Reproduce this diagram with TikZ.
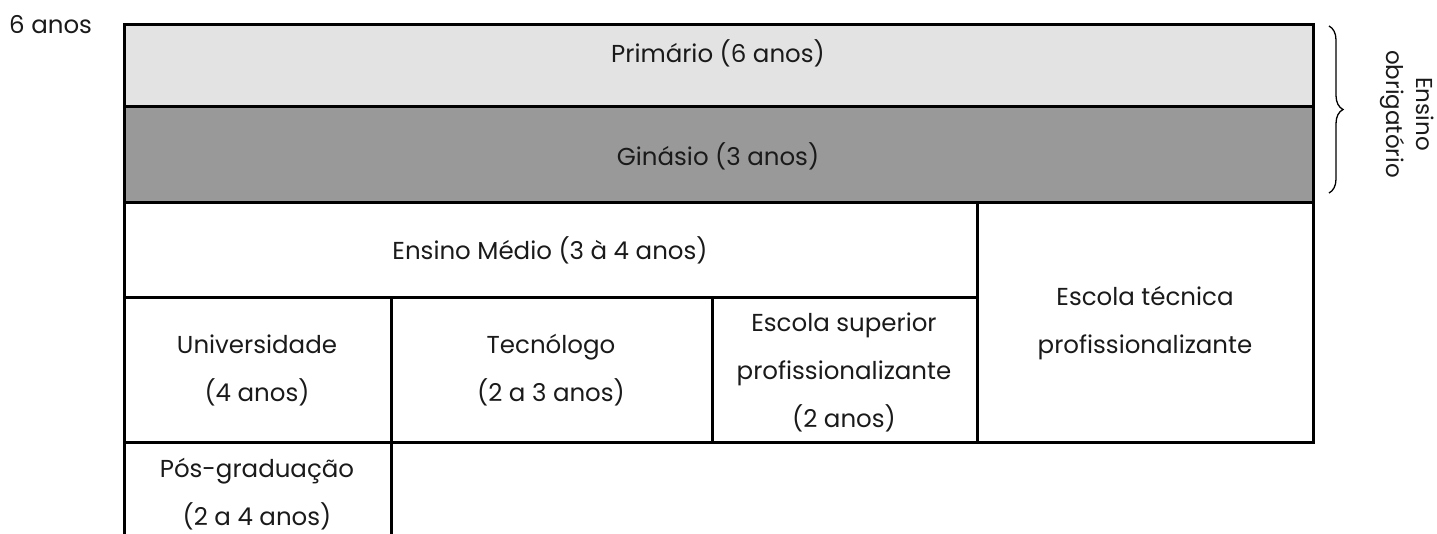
\documentclass[tikz,border=0pt]{standalone}
\usepackage{fontspec}
\setmainfont{Poppins}
\usetikzlibrary{decorations.pathreplacing}
\definecolor{lightfill}{HTML}{E3E3E3}
\definecolor{darkfill}{HTML}{999999}
\definecolor{ink}{HTML}{1A1A1A}
\tikzset{
  cell/.style={draw=black, line width=3pt},
  lbl/.style={inner sep=0pt, align=center, text=ink, font=\fontsize{24.5}{48}\selectfont},
}
\begin{document}
\begin{tikzpicture}[x=1pt,y=-1pt]
\useasboundingbox (0,0) rectangle (1437,533);
% fills
\fill[lightfill] (124,24) rectangle (1313,106);
\fill[darkfill] (124,106) rectangle (1313,202);
% grid
\draw[cell] (124,24) rectangle (1313,106);
\draw[cell] (124,106) rectangle (1313,202);
\draw[cell] (124,202) rectangle (977,297);
\draw[cell] (977,202) rectangle (1313,442);
\draw[cell] (124,297) rectangle (391,442);
\draw[cell] (391,297) rectangle (712,442);
\draw[cell] (712,297) rectangle (977,442);
\draw[cell] (124,540) -- (124,442) -- (391,442) -- (391,540);
% labels
\node[lbl, anchor=west] (age) at (9,25) {6 anos};
\node[lbl] (prim) at (718,53) {Primário (6 anos)};
\node[lbl] (gin) at (718,156) {Ginásio (3 anos)};
\node[lbl] (med) at (550,250) {Ensino Médio (3 à 4 anos)};
\node[lbl] (univ) at (257,370) {Universidade\\(4 anos)};
\node[lbl] (tec) at (551,370) {Tecnólogo\\(2 a 3 anos)};
\node[lbl] (sup) at (844,372) {Escola superior\\profissionalizante\\(2 anos)};
\node[lbl] (etec) at (1145,323) {Escola técnica\\profissionalizante};
\node[lbl] (pos) at (257,494) {Pós-graduação\\(2 a 4 anos)};
% brace
\coordinate (btop) at (1329,26);
\coordinate (bbot) at (1329,193);
\draw[line width=1.3pt, decorate, decoration={brace, amplitude=14pt}] (btop) -- (bbot);
\node[lbl, rotate=-90, font=\fontsize{23}{30}\selectfont] (obr) at (1407,114) {Ensino\\obrigatório};
\end{tikzpicture}
\end{document}
